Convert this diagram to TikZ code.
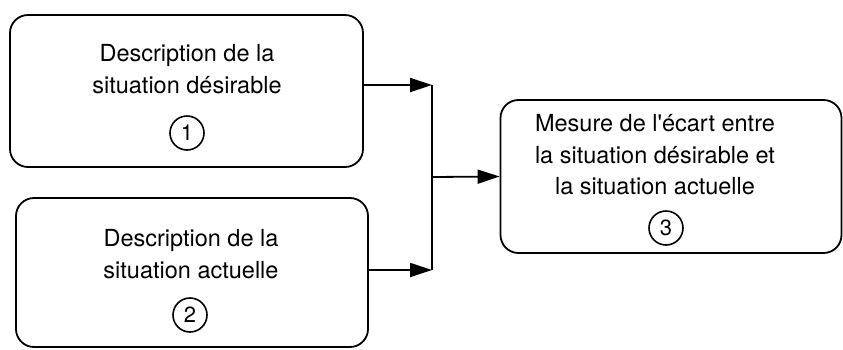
\documentclass[tikz,border=0pt]{standalone}
\usepackage{fontspec}
\setmainfont{TeX Gyre Heros}
\usetikzlibrary{arrows.meta}

\tikzset{
    boite/.style={draw, line width=1.8pt, rounded corners=18pt, inner sep=0pt},
    texte/.style={align=center, inner sep=0pt, font=\fontsize{23.5}{31.5}\selectfont},
    rond/.style={draw, circle, line width=1.6pt, minimum size=34pt, inner sep=0pt,
        font=\fontsize{22}{22}\selectfont},
    trait/.style={line width=1.8pt},
    fleche/.style={line width=1.8pt, -{Triangle[length=22pt, width=14pt]}}
}

\begin{document}
\begin{tikzpicture}[x=1pt, y=-1pt]
        \useasboundingbox (0,0) rectangle (843,349);

        % les trois cadres
        \node[boite, minimum width=353pt, minimum height=152pt] (desir) at (186.5,91) {};
        \node[boite, minimum width=352pt, minimum height=149pt] (actu) at (192,272.5) {};
        \node[boite, minimum width=341pt, minimum height=153pt] (mesure) at (671,176.5) {};

        \node[texte] (desirtxt) at (187,69) {Description de la\\situation désirable};
        \node[rond] (un) at (187,133) {1};

        \node[texte] (actutxt) at (191,254) {Description de la\\situation actuelle};
        \node[rond] (deux) at (190,315) {2};

        \node[texte] (mesuretxt) at (655,155) {Mesure de l\textquotesingle écart entre\\la situation désirable et\\la situation actuelle};
        \node[rond] (trois) at (666,228) {3};

        % fleches
        \coordinate (j) at (432,177);
        \draw[fleche] ([yshift=6pt]desir.east) -- ([yshift=6pt]desir.east -| j);
        \draw[fleche] ([yshift=2.5pt]actu.east) -- ([yshift=2.5pt]actu.east -| j);
        \draw[trait] ([yshift=6pt]desir.east -| j) -- ([yshift=2.5pt]actu.east -| j);
        \draw[fleche] (j) -- (mesure.west);
    \end{tikzpicture}
\end{document}
